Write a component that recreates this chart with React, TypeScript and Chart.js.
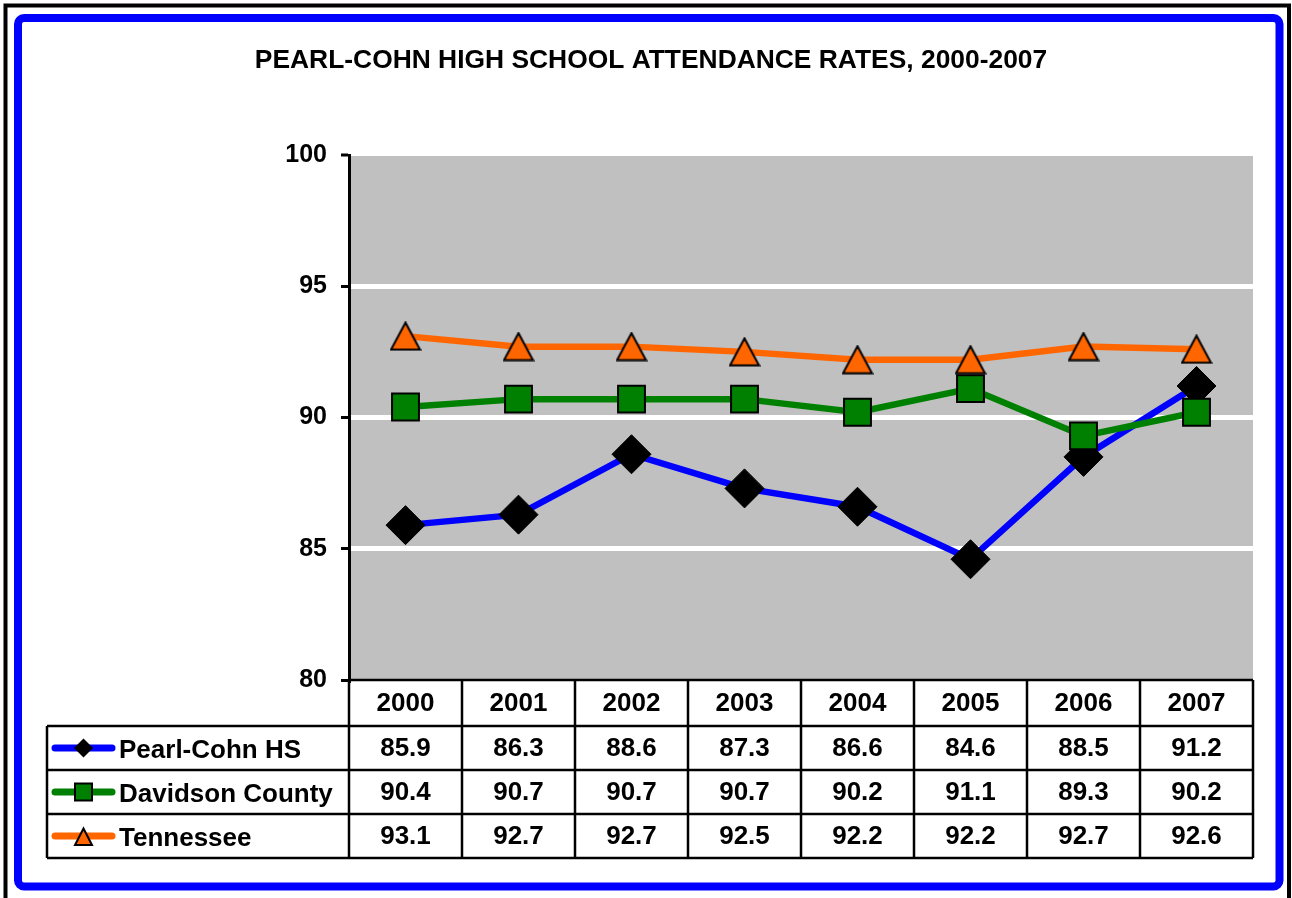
import React, { useEffect, useRef } from "react";
import { Chart, registerables } from "chart.js";

Chart.register(...registerables);

const chartTitle = "PEARL-COHN HIGH SCHOOL ATTENDANCE RATES, 2000-2007";
const years = ["2000", "2001", "2002", "2003", "2004", "2005", "2006", "2007"];
const seriesNames = ["Pearl-Cohn HS", "Davidson County", "Tennessee"];
const pearlCohn = [85.9, 86.3, 88.6, 87.3, 86.6, 84.6, 88.5, 91.2];
const davidson = [90.4, 90.7, 90.7, 90.7, 90.2, 91.1, 89.3, 90.2];
const tennessee = [93.1, 92.7, 92.7, 92.5, 92.2, 92.2, 92.7, 92.6];
const yTicks = [80, 85, 90, 95, 100];

const FONT = "'Liberation Sans', Arial, Helvetica, sans-serif";
const BLUE = "#0000FF";
const GREEN = "#008000";
const ORANGE = "#FF6600";

function roundRectPath(ctx: CanvasRenderingContext2D, x: number, y: number, w: number, h: number, r: number) {
  ctx.beginPath();
  ctx.moveTo(x + r, y);
  ctx.lineTo(x + w - r, y);
  ctx.arcTo(x + w, y, x + w, y + r, r);
  ctx.lineTo(x + w, y + h - r);
  ctx.arcTo(x + w, y + h, x + w - r, y + h, r);
  ctx.lineTo(x + r, y + h);
  ctx.arcTo(x, y + h, x, y + h - r, r);
  ctx.lineTo(x, y + r);
  ctx.arcTo(x, y, x + r, y, r);
  ctx.closePath();
}

function makeTriangleImage(): HTMLCanvasElement {
  const c = document.createElement("canvas");
  c.width = 32;
  c.height = 30;
  const ctx = c.getContext("2d")!;
  ctx.beginPath();
  ctx.moveTo(16, 1.5);
  ctx.lineTo(30.5, 28.5);
  ctx.lineTo(1.5, 28.5);
  ctx.closePath();
  ctx.fillStyle = ORANGE;
  ctx.fill();
  ctx.lineWidth = 2;
  ctx.lineJoin = "miter";
  ctx.strokeStyle = "#000";
  ctx.stroke();
  return c;
}

function drawMarker(ctx: CanvasRenderingContext2D, kind: number, x: number, y: number) {
  ctx.save();
  ctx.beginPath();
  if (kind === 0) {
    const r = 9.5;
    ctx.moveTo(x, y - r);
    ctx.lineTo(x + r, y);
    ctx.lineTo(x, y + r);
    ctx.lineTo(x - r, y);
    ctx.closePath();
    ctx.fillStyle = "#000";
    ctx.fill();
  } else if (kind === 1) {
    const h = 8.5;
    ctx.rect(x - h, y - h, 2 * h, 2 * h);
    ctx.fillStyle = GREEN;
    ctx.fill();
    ctx.lineWidth = 2;
    ctx.strokeStyle = "#000";
    ctx.stroke();
  } else {
    ctx.moveTo(x, y - 7.5);
    ctx.lineTo(x + 8.5, y + 9);
    ctx.lineTo(x - 8.5, y + 9);
    ctx.closePath();
    ctx.fillStyle = ORANGE;
    ctx.fill();
    ctx.lineWidth = 2;
    ctx.strokeStyle = "#000";
    ctx.stroke();
  }
  ctx.restore();
}

const framePlugin = {
  id: "frame",
  beforeDraw(chart: any) {
    const { ctx, width, height, chartArea: a } = chart;
    ctx.save();
    ctx.fillStyle = "#FFFFFF";
    ctx.fillRect(0, 0, width, height);
    ctx.strokeStyle = "#000";
    ctx.lineWidth = 4;
    ctx.strokeRect(5.5, 5.5, width - 8.5, height + 4);
    ctx.strokeStyle = BLUE;
    ctx.lineWidth = 8;
    roundRectPath(ctx, 18, 18, width - 30.5, height - 29.5, 6);
    ctx.stroke();
    ctx.fillStyle = "#C0C0C0";
    ctx.fillRect(a.left, a.top, a.right - a.left, a.bottom - a.top);
    ctx.fillStyle = "#000";
    ctx.font = `bold 26.4px ${FONT}`;
    ctx.textAlign = "center";
    ctx.textBaseline = "middle";
    ctx.fillText(chartTitle, 651, 61);
    ctx.restore();
  },
  afterDraw(chart: any) {
    const { ctx, chartArea: a } = chart;
    const xs = chart.scales.x;
    const n = years.length;
    const colW = (a.right - a.left) / n;
    const tableLeft = 47;
    const headerH = 46;
    const rowH = 44;
    const rowsTop = a.bottom + headerH;
    const tableBottom = rowsTop + rowH * 3;
    ctx.save();
    ctx.strokeStyle = "#000";
    ctx.lineWidth = 2.5;
    ctx.beginPath();
    ctx.moveTo(a.left, a.bottom);
    ctx.lineTo(a.right, a.bottom);
    for (let r = 0; r <= 3; r++) {
      const y = rowsTop + r * rowH;
      ctx.moveTo(tableLeft, y);
      ctx.lineTo(a.right, y);
    }
    ctx.moveTo(tableLeft, rowsTop);
    ctx.lineTo(tableLeft, tableBottom);
    for (let i = 0; i <= n; i++) {
      const x = a.left + i * colW;
      ctx.moveTo(x, a.bottom);
      ctx.lineTo(x, tableBottom);
    }
    ctx.stroke();

    ctx.fillStyle = "#000";
    ctx.font = `bold 26px ${FONT}`;
    ctx.textAlign = "center";
    ctx.textBaseline = "middle";
    years.forEach((yr, i) => {
      ctx.fillText(yr, xs.getPixelForValue(i), a.bottom + headerH / 2 + 1);
    });
    const rows = [pearlCohn, davidson, tennessee];
    const colors = [BLUE, GREEN, ORANGE];
    rows.forEach((vals, r) => {
      const cy = rowsTop + r * rowH + rowH / 2 + 1;
      vals.forEach((v, i) => {
        ctx.fillText(v.toFixed(1), xs.getPixelForValue(i), cy);
      });
      ctx.save();
      ctx.strokeStyle = colors[r];
      ctx.lineWidth = 7;
      ctx.lineCap = "round";
      ctx.beginPath();
      ctx.moveTo(55, cy - 1);
      ctx.lineTo(112, cy - 1);
      ctx.stroke();
      ctx.restore();
      drawMarker(ctx, r, 83.5, cy - 1);
      ctx.textAlign = "left";
      ctx.fillText(seriesNames[r], 119, cy + 2);
      ctx.textAlign = "center";
    });
    ctx.restore();
  },
};

export default function App() {
  const canvasRef = useRef<HTMLCanvasElement | null>(null);

  useEffect(() => {
    const canvas = canvasRef.current;
    if (!canvas) return;
    const triangleImg = makeTriangleImage();
    const chart = new Chart(canvas, {
      type: "line",
      data: {
        labels: years,
        datasets: [
          {
            label: seriesNames[0],
            data: pearlCohn,
            borderColor: BLUE,
            borderWidth: 6.5,
            pointStyle: "rectRot",
            pointRadius: 19.5,
            pointHoverRadius: 19.5,
            pointBackgroundColor: "#000",
            pointBorderColor: "#000",
            pointBorderWidth: 1,
            order: 3,
          },
          {
            label: seriesNames[1],
            data: davidson,
            borderColor: GREEN,
            borderWidth: 6.5,
            pointStyle: "rect",
            pointRadius: 19,
            pointHoverRadius: 19,
            pointBackgroundColor: GREEN,
            pointBorderColor: "#000",
            pointBorderWidth: 2,
            order: 2,
          },
          {
            label: seriesNames[2],
            data: tennessee,
            borderColor: ORANGE,
            borderWidth: 6.5,
            pointStyle: triangleImg,
            pointRadius: 16,
            pointHoverRadius: 16,
            pointBackgroundColor: ORANGE,
            pointBorderColor: "#000",
            pointBorderWidth: 2,
            order: 1,
          },
        ],
      },
      options: {
        responsive: false,
        animation: false,
        maintainAspectRatio: false,
        layout: { padding: { left: 0, right: 39, top: 155, bottom: 218 } },
        plugins: {
          legend: { display: false },
          title: { display: false },
          tooltip: { enabled: false },
        },
        scales: {
          x: {
            type: "category",
            offset: true,
            display: false,
          },
          y: {
            min: yTicks[0],
            max: yTicks[yTicks.length - 1],
            afterFit: (scale: any) => {
              scale.width = 349;
            },
            afterBuildTicks: (scale: any) => {
              scale.ticks = yTicks.map((v) => ({ value: v }));
            },
            ticks: {
              color: "#000",
              font: { family: FONT, size: 25, weight: "bold" },
              padding: 14,
            },
            grid: {
              color: (c: any) => (c.tick && c.tick.value === yTicks[0] ? "rgba(0,0,0,0)" : "#FFFFFF"),
              lineWidth: (c: any) => (c.tick && c.tick.value === yTicks[yTicks.length - 1] ? 2 : 5),
              tickColor: "#000",
              tickWidth: 3,
              tickLength: 8,
              drawTicks: true,
            },
            border: { display: true, color: "#000", width: 3 },
          },
        },
      },
      plugins: [framePlugin],
    } as any);
    return () => chart.destroy();
  }, []);

  return (
    <div style={{ position: "fixed", left: 0, top: 0, width: 1292, height: 898 }}>
      <canvas ref={canvasRef} width={1292} height={898} style={{ display: "block", width: 1292, height: 898 }} />
    </div>
  );
}
